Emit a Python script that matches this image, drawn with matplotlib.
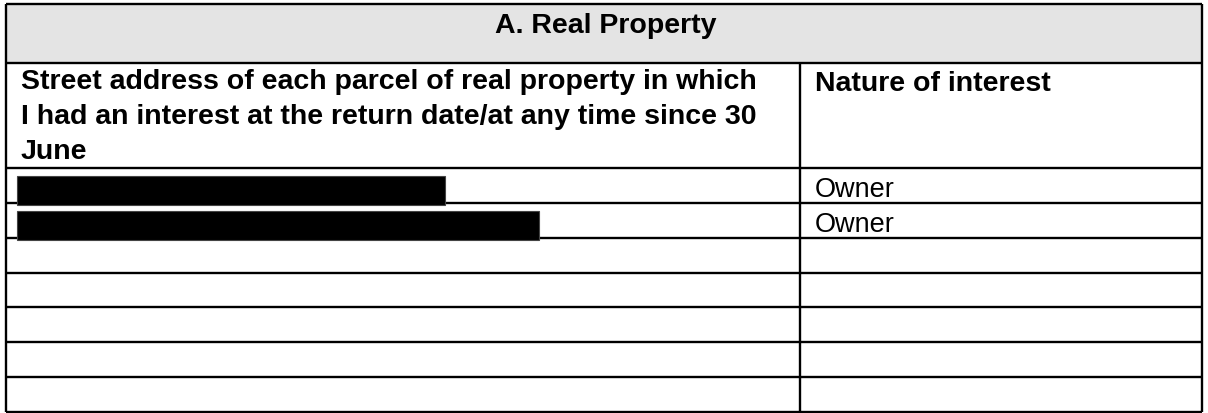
import matplotlib.pyplot as plt
from matplotlib.patches import Rectangle

# table content
title = "A. Real Property"
col_headers = ["Street address of each parcel of real property in which\nI had an interest at the return date/at any time since 30\nJune",
               "Nature of interest"]
# addresses are redacted, only their length (in px) is visible
redacted_len = [428, 522, 0, 0, 0, 0, 0]
interest = ["Owner", "Owner", "", "", "", "", ""]

plt.rcParams['font.family'] = ['Liberation Sans', 'DejaVu Sans']

fig = plt.figure(figsize=(12.08, 4.14), dpi=100)
ax = fig.add_axes([0, 0, 1, 1])
ax.set_xlim(0, 1208)
ax.set_ylim(414, 0)
ax.axis('off')

left, right, mid = 6, 1202, 800
top, title_bot, head_bot = 5, 64, 169
row_h = (413 - head_bot) / len(interest)
n = len(interest)
row_y = [head_bot + i * row_h for i in range(n + 1)]
lw = 1.7

# title band
ax.add_patch(Rectangle((left, top), right - left, title_bot - top, facecolor='#e4e4e4', edgecolor='none'))
ax.text((left + right) / 2 + 2, 33, title, ha='center', va='baseline',
        fontsize=20.5, fontweight='bold')

# column headers (first baseline near y=91)
ax.text(left + 15, 69, col_headers[0], ha='left', va='top', fontsize=20.5,
        fontweight='bold', linespacing=1.46)
ax.text(mid + 15, 91, col_headers[1], ha='left', va='baseline', fontsize=20.5,
        fontweight='bold')

# body rows
for i in range(n):
    y0 = row_y[i]
    if redacted_len[i] > 0:
        ax.add_patch(Rectangle((left + 11, y0 + 8), redacted_len[i], row_h - 6,
                               facecolor='black', edgecolor='#444444', lw=0.8, zorder=3))
    ax.text(mid + 15, y0 + 28, interest[i], ha='left', va='baseline', fontsize=19.5)

# grid lines
ax.hlines([top, title_bot] + row_y, left, right, color='black', lw=lw)
ax.vlines([left, right], top, row_y[-1], color='black', lw=lw)
ax.vlines(mid, title_bot, row_y[-1], color='black', lw=lw)

fig.savefig('out.png', dpi=100)
